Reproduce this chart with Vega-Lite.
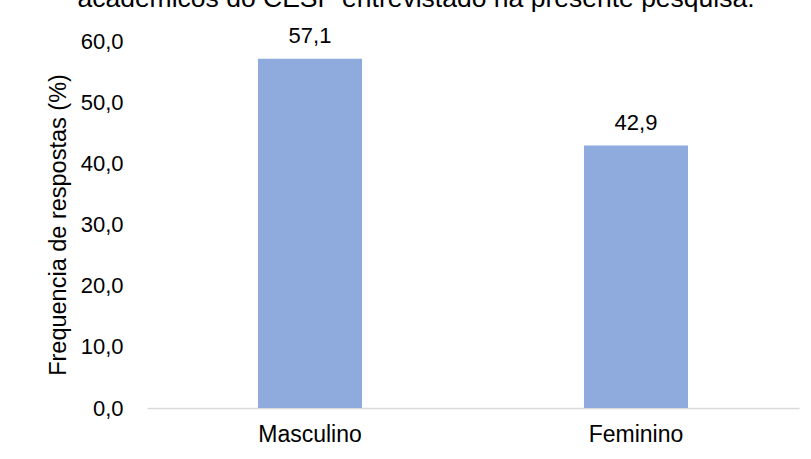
{
  "$schema": "https://vega.github.io/schema/vega-lite/v6.json",
  "width": 652,
  "height": 367,
  "autosize": {"type": "none"},
  "padding": {"left": 147, "top": 41, "right": 12, "bottom": 51},
  "background": "white",
  "config": {
    "locale": {"number": {"decimal": ",", "thousands": ".", "grouping": [3], "currency": ["R$", ""]}},
    "view": {"stroke": null},
    "font": "Liberation Sans"
  },
  "title": {
    "text": "acadêmicos do CESP entrevistado na presente pesquisa.",
    "fontSize": 26.5,
    "fontWeight": "normal",
    "color": "#000000",
    "baseline": "alphabetic",
    "anchor": "middle",
    "offset": -9,
    "dx": -57
  },
  "data": {
    "values": [
      {"sexo": "Masculino", "freq": 57.1},
      {"sexo": "Feminino", "freq": 42.9}
    ]
  },
  "encoding": {
    "x": {
      "field": "sexo",
      "type": "nominal",
      "sort": null,
      "axis": {
        "title": null,
        "labelAngle": 0,
        "labelFontSize": 23,
        "labelColor": "#000000",
        "labelPadding": 15,
        "ticks": false,
        "domainColor": "#d9d9d9",
        "domainWidth": 1.5
      }
    },
    "y": {
      "field": "freq",
      "type": "quantitative",
      "scale": {"domain": [0, 60], "nice": false},
      "axis": {
        "title": "Frequencia de respostas (%)",
        "titleFontSize": 23.5,
        "titleFontWeight": "normal",
        "titleColor": "#000000",
        "titlePadding": 10,
        "values": [0, 10, 20, 30, 40, 50, 60],
        "format": ".1f",
        "labelFontSize": 22,
        "labelColor": "#000000",
        "labelPadding": 24,
        "ticks": false,
        "domain": false,
        "grid": false
      }
    }
  },
  "layer": [
    {"mark": {"type": "bar", "width": 104, "color": "#8faadc"}},
    {
      "mark": {"type": "text", "fontSize": 22, "color": "#000000", "baseline": "alphabetic", "dy": -16},
      "encoding": {"text": {"field": "freq", "type": "quantitative", "format": ".1f"}}
    }
  ]
}
